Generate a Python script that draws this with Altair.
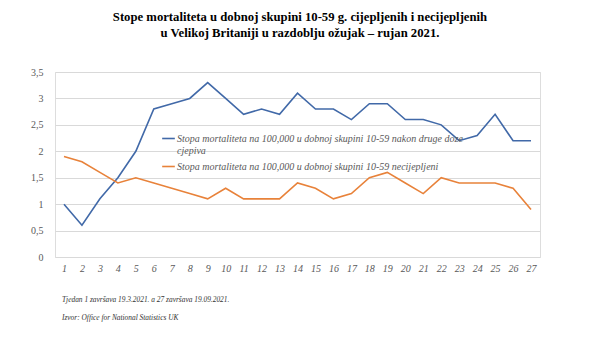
import altair as alt
import pandas as pd

tjedni = list(range(1, 28))
cijepljeni = [1.0, 0.6, 1.1, 1.5, 2.0, 2.8, 2.9, 3.0, 3.3, 3.0, 2.7, 2.8, 2.7, 3.1, 2.8, 2.8, 2.6, 2.9, 2.9, 2.6, 2.6, 2.5, 2.2, 2.3, 2.7, 2.2, 2.2]
necijepljeni = [1.9, 1.8, 1.6, 1.4, 1.5, 1.4, 1.3, 1.2, 1.1, 1.3, 1.1, 1.1, 1.1, 1.4, 1.3, 1.1, 1.2, 1.5, 1.6, 1.4, 1.2, 1.5, 1.4, 1.4, 1.4, 1.3, 0.9]
serije = [
    "Stopa mortaliteta na 100,000 u dobnoj skupini 10-59 nakon druge doze cjepiva",
    "Stopa mortaliteta na 100,000 u dobnoj skupini 10-59 necijepljeni",
]
boje = ["#4169A8", "#E8823A"]
naslov = [
    "Stope mortaliteta u dobnoj skupini 10-59 g. cijepljenih i necijepljenih",
    "u Velikoj Britaniji u razdoblju ožujak \u2013 rujan 2021.",
]
biljeske = [
    "Tjedan 1 završava 19.3.2021. a 27 završava 19.09.2021.",
    "Izvor: Office for National Statistics UK",
]

rows = []
for s, vals in zip(serije, [cijepljeni, necijepljeni]):
    for t, v in zip(tjedni, vals):
        rows.append({"tjedan": t, "vrijednost": v, "serija": s})
df = pd.DataFrame(rows)

label_expr = (
    "datum.label == '" + serije[0] + "' ? "
    "['Stopa mortaliteta na 100,000 u dobnoj skupini 10-59 nakon druge doze', 'cjepiva'] : datum.label"
)

lines = alt.Chart(df).mark_line(strokeWidth=1.6).encode(
    x=alt.X("tjedan:O", scale=alt.Scale(type="point", padding=0.5),
            axis=alt.Axis(title=None, labelAngle=0, ticks=False, domain=False,
                          labelFont="Liberation Serif", labelFontStyle="italic",
                          labelFontSize=10, labelColor="#595959", labelPadding=6)),
    y=alt.Y("vrijednost:Q", scale=alt.Scale(domain=[0, 3.5], nice=False),
            axis=alt.Axis(title=None, values=[0, 0.5, 1, 1.5, 2, 2.5, 3, 3.5],
                          labelExpr="replace(toString(datum.value), '.', ',')",
                          ticks=False, domain=False, gridColor="#D9D9D9",
                          labelFont="Liberation Serif", labelFontSize=10,
                          labelColor="#595959", labelPadding=12)),
    color=alt.Color("serija:N", sort=serije,
                    scale=alt.Scale(domain=serije, range=boje),
                    legend=alt.Legend(title=None, orient="none", legendX=106, legendY=59,
                                      symbolType="stroke", symbolSize=160,
                                      symbolStrokeWidth=1.6, labelLimit=1000,
                                      labelFont="Liberation Serif", labelFontStyle="italic",
                                      labelFontSize=10, labelColor="#595959",
                                      labelExpr=label_expr, rowPadding=3,
                                      labelOffset=1)),
)

title_layers = []
for txt, yy in zip(naslov, [-55, -39]):
    title_layers.append(
        alt.Chart(pd.DataFrame({"t": [txt]})).mark_text(
            font="Liberation Serif", fontWeight="bold", fontSize=12.7, color="#000000",
            align="center", baseline="middle"
        ).encode(text="t:N", x=alt.value(245), y=alt.value(yy))
    )

note_layers = []
for txt, yy in zip(biljeske, [228, 246]):
    note_layers.append(
        alt.Chart(pd.DataFrame({"t": [txt]})).mark_text(
            font="Liberation Serif", fontStyle="italic", fontSize=7.4, color="#333333",
            align="left", baseline="middle"
        ).encode(text="t:N", x=alt.value(7), y=alt.value(yy))
    )

chart = alt.layer(lines, *title_layers, *note_layers).properties(
    width=485, height=185,
    autosize=alt.AutoSizeParams(type="none"),
    padding={"left": 55, "top": 72, "right": 62, "bottom": 81},
).configure_view(stroke=None).configure(background="white")

chart.save("out.html", embed_options={"renderer": "svg", "actions": False})
